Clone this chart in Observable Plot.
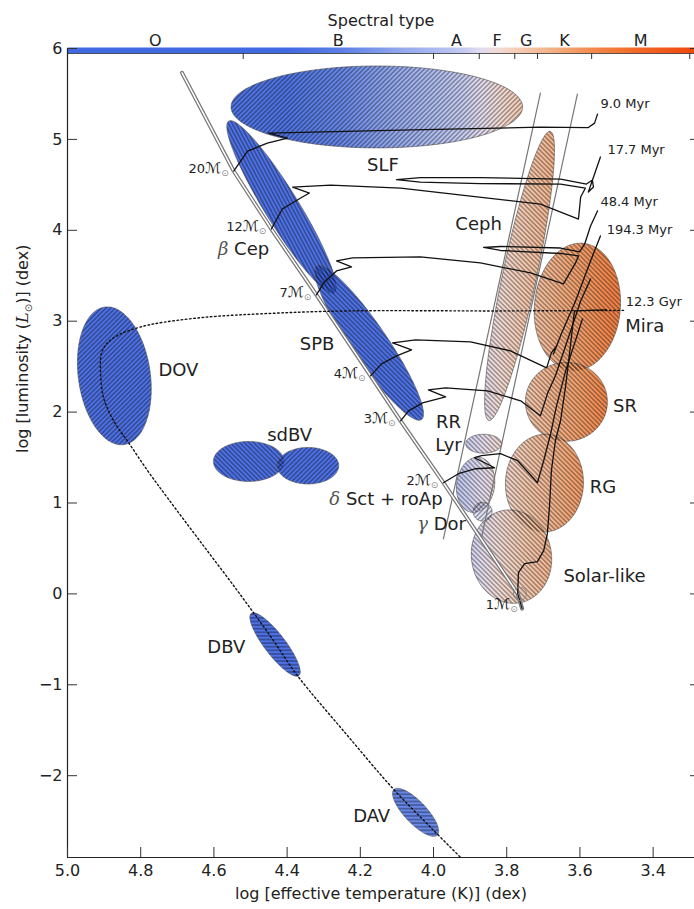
<!DOCTYPE html>
<html><head><meta charset="utf-8">
<script src="https://cdn.jsdelivr.net/npm/d3@7"></script>
<script src="https://cdn.jsdelivr.net/npm/@observablehq/plot@0.6"></script>
<style>
html,body{margin:0;padding:0;background:#fff;}
svg{display:block;}
</style>
</head><body>
<div id="chart"></div>
<script>
// ---------------- data ----------------
const xTicks = [5.0, 4.8, 4.6, 4.4, 4.2, 4.0, 3.8, 3.6, 3.4];
const yTicks = [-2, -1, 0, 1, 2, 3, 4, 5, 6];
const spectralLetters = ["O", "B", "A", "F", "G", "K", "M"];
const spectralEdges = [5.0, 4.52, 4.0, 3.875, 3.778, 3.716, 3.568, 3.30];

// zero-age main sequence [log Teff, log L]
const zams = [[4.687,5.732],[4.546,4.652],[4.443,4.014],[4.320,3.289],[4.172,2.399],[4.090,1.904],[3.973,1.223],[3.770,0.003],[3.758,-0.162]];
const massLabels = ["20", "12", "7", "4", "3", "2", "1"];
const massLogT = [4.546, 4.443, 4.320, 4.172, 4.090, 3.973, 3.770];
const massLogL = [4.652, 4.014, 3.289, 2.399, 1.904, 1.223, 0.003];

// evolutionary tracks [log Teff, log L]
const track20 = [[4.546,4.652],[4.508,4.871],[4.454,4.959],[4.399,5.014],[4.451,5.069],[4.090,5.102],[3.708,5.135],[3.577,5.130],[3.560,5.179],[3.552,5.278]];
const track12 = [[4.443,4.014],[4.413,4.234],[4.363,4.355],[4.339,4.410],[4.385,4.476],[4.281,4.498],[4.090,4.465],[3.899,4.377],[3.708,4.289],[3.604,4.124],[3.598,4.366],[3.585,4.465],[3.653,4.509],[3.872,4.514],[4.036,4.531],[4.101,4.558],[4.036,4.580],[3.872,4.580],[3.653,4.564],[3.582,4.509],[3.566,4.553],[3.563,4.476],[3.577,4.421],[3.544,4.806]];
const track7 = [[4.320,3.289],[4.298,3.432],[4.265,3.553],[4.224,3.597],[4.265,3.663],[4.221,3.696],[4.036,3.707],[3.872,3.641],[3.735,3.531],[3.645,3.410],[3.612,3.641],[3.604,3.718],[3.653,3.745],[3.817,3.778],[3.863,3.811],[3.817,3.822],[3.653,3.805],[3.601,3.762],[3.587,3.850],[3.571,4.048],[3.552,4.213]];
const track4 = [[4.172,2.399],[4.142,2.531],[4.101,2.619],[4.060,2.685],[4.112,2.762],[4.049,2.795],[3.899,2.773],[3.790,2.674],[3.691,2.487],[3.678,2.652],[3.664,2.729],[3.672,2.641],[3.653,2.839],[3.612,3.223],[3.571,3.663],[3.544,3.938]];
const track3 = [[4.090,1.904],[4.068,2.014],[4.030,2.102],[3.967,2.168],[4.014,2.245],[3.967,2.267],[3.852,2.234],[3.762,2.124],[3.708,1.959],[3.689,2.201],[3.667,2.399],[3.639,2.729],[3.598,3.223],[3.571,3.465]];
const track2 = [[3.973,1.223],[3.932,1.322],[3.885,1.377],[3.833,1.388],[3.888,1.498],[3.869,1.520],[3.817,1.542],[3.770,1.465],[3.716,1.223],[3.699,1.465],[3.680,1.762],[3.664,2.069],[3.639,2.454],[3.593,3.025]];
const track1 = [[3.758,-0.162],[3.770,0.003],[3.768,0.234],[3.751,0.333],[3.716,0.355],[3.699,0.476],[3.689,0.663],[3.683,0.970],[3.678,1.355],[3.667,1.685],[3.653,1.905],[3.639,2.289],[3.626,2.729],[3.615,3.113],[3.527,3.124]];
// post-AGB / white-dwarf cooling path (dotted)
const wdPath = [[3.481,3.119],[3.817,3.113],[4.235,3.113],[4.445,3.086],[4.628,3.042],[4.765,2.970],[4.809,2.926],[4.855,2.860],[4.891,2.761],[4.907,2.651],[4.910,2.487],[4.902,2.168],[4.874,1.904],[4.833,1.663],[4.781,1.355],[4.727,1.058],[4.637,0.575],[4.536,0.036],[4.445,-0.469],[4.372,-0.898],[4.240,-1.535],[4.109,-2.150],[4.008,-2.568],[3.918,-2.931]];
// classical instability strip edges
const blueEdge = [[3.708,5.509],[3.973,0.604]];
const redEdge = [[3.607,5.498],[3.869,0.619]];
const sunPoint = [[3.764, 0.0]];

// pulsator regions: centre (log Teff, log L), semi-axes (in dex of log L), tilt (deg)
const regionNames = ["SLF","β Cep","SPB","Ceph","Mira","SR","RG","Solar-like","δ Sct","RR Lyr","γ Dor","DOV","sdBV a","sdBV b","DBV","DAV"];
const regionLogT  = [4.155, 4.415, 4.176, 3.765, 3.607, 3.637, 3.697, 3.787, 3.885, 3.863, 3.866, 4.872, 4.505, 4.343, 4.433, 4.049];
const regionLogL  = [5.357, 4.256, 2.762, 3.498, 3.157, 2.113, 1.218, 0.410, 1.200, 1.652, 0.904, 2.399, 1.457, 1.410, -0.557, -2.403];
const regionMajor = [1.604, 1.110, 1.022, 1.626, 0.703, 0.451, 0.538, 0.516, 0.306, 0.198, 0.104, 0.764, 0.388, 0.338, 0.431, 0.346];
const regionMinor = [0.451, 0.187, 0.198, 0.187, 0.473, 0.434, 0.429, 0.440, 0.209, 0.104, 0.104, 0.396, 0.220, 0.201, 0.115, 0.121];
const regionTilt  = [0, -58.4, -55.7, 78, 85, 0, 88, 100, 82, 0, 0, 98, 0, 0, -52.6, -46.5];

// text annotations
const labelText = ["SLF","Ceph","β Cep","SPB","DOV","sdBV","RR\nLyr","δ Sct + roAp","γ Dor","Solar-like","RG","SR","Mira","DBV","DAV"];
const labelLogT = [4.138, 3.877, 4.519, 4.318, 4.697, 4.393, 3.959, 4.130, 3.978, 3.533, 3.537, 3.477, 3.423, 4.566, 4.169];
const labelLogL = [4.740, 4.084, 3.809, 2.765, 2.476, 1.762, 1.778, 1.055, 0.787, 0.212, 1.190, 2.080, 2.959, -0.569, -2.426];
const ageLabels = ["9.0 Myr", "17.7 Myr", "48.4 Myr", "194.3 Myr", "12.3 Gyr"];
const ageLogT = [3.544, 3.525, 3.544, 3.527, 3.475];
const ageLogL = [5.387, 4.882, 4.311, 4.003, 3.212];

const xTitle = "log [effective temperature (K)] (dex)";
const yTitle = "log [luminosity (L⊙)] (dex)";

// ---------------- layout & style ----------------
const W = 694, H = 909, mL = 67, mR = 0, mT = 48, mB = 52;
const xDomain = [5.0, 3.287], yDomain = [-2.9, 6.0];
const plotW = W - mL - mR, plotH = H - mT - mB;
const kx = plotW / (xDomain[0] - xDomain[1]);
const ky = plotH / (yDomain[1] - yDomain[0]);
const aspect = ky / kx;

const cmap = [[5.0,"#4169e1"],[4.40,"#4169e1"],[4.25,"#5c7fe6"],[4.10,"#8fa5ee"],[4.00,"#aab9f1"],[3.92,"#c4caf2"],[3.87,"#e2dcf0"],[3.82,"#f3dad2"],[3.76,"#f5c9b0"],[3.70,"#f4b792"],[3.62,"#f39e68"],[3.55,"#f28546"],[3.45,"#f26a28"],[3.30,"#f04a10"]];
const regionLook = {
  "SLF": ["grad","fwd"], "β Cep": ["blue","steep"], "SPB": ["blue","back"], "Ceph": ["grad","back"],
  "Mira": ["grad","back"], "SR": ["grad","back"], "RG": ["grad","back"], "Solar-like": ["grad","back"],
  "δ Sct": ["grad","back"], "RR Lyr": ["grad","back"], "γ Dor": ["light","fwd"], "DOV": ["blue","fwd"],
  "sdBV a": ["blue","back"], "sdBV b": ["blue","fwd"], "DBV": ["blue","horiz"], "DAV": ["blue2","horiz"]
};
const fillFor = {grad: "url(#cmapgrad)", blue: "#3f66e3", blue2: "#5a7de6", light: "#d0d2f4"};
const hatchAngles = {fwd: -45, back: 45, steep: 62, horiz: 0};

function ellipsePts(i) {
  const cx = regionLogT[i], cy = regionLogL[i], a = regionMajor[i], b = regionMinor[i];
  const phi = regionTilt[i] * Math.PI / 180, n = 120, pts = [];
  for (let k = 0; k < n; k++) {
    const t = 2 * Math.PI * k / n;
    const du = a * Math.cos(t) * Math.cos(phi) - b * Math.sin(t) * Math.sin(phi);
    const dv = a * Math.cos(t) * Math.sin(phi) + b * Math.sin(t) * Math.cos(phi);
    pts.push({x: cx - du * aspect, y: cy + dv});
  }
  return pts;
}
const shapes = regionNames.map((n, i) => ellipsePts(i));
const px = d => d[0], py = d => d[1];

const fillMarks = regionNames.map((n, i) => Plot.line(shapes[i], {
  x: "x", y: "y", curve: "linear-closed",
  fill: fillFor[regionLook[n][0]], fillOpacity: regionLook[n][0] === "light" ? 0.55 : 0.92,
  stroke: "#666", strokeOpacity: 0.85, strokeWidth: 0.8
}));
const hatchMarks = regionNames.map((n, i) => Plot.line(shapes[i], {
  x: "x", y: "y", curve: "linear-closed", fill: `url(#hatch-${regionLook[n][1]})`, stroke: "none"
}));
const tracks = [track20, track12, track7, track4, track3, track2, track1];

const svg = Plot.plot({
  width: W, height: H,
  marginLeft: mL, marginRight: mR, marginTop: mT, marginBottom: mB,
  x: {domain: xDomain},
  y: {domain: yDomain},
  style: {fontFamily: "DejaVu Sans, sans-serif", fontSize: "16px", color: "#222", background: "#fff", overflow: "visible"},
  marks: [
    ...fillMarks,
    ...hatchMarks,
    Plot.line(blueEdge, {x: px, y: py, stroke: "#777", strokeWidth: 1.2}),
    Plot.line(redEdge, {x: px, y: py, stroke: "#777", strokeWidth: 1.2}),
    Plot.line(zams, {x: px, y: py, stroke: "#777", strokeWidth: 4}),
    Plot.line(zams, {x: px, y: py, stroke: "#fff", strokeWidth: 1.5}),
    ...tracks.map(t => Plot.line(t, {x: px, y: py, stroke: "#111", strokeWidth: 1.3, strokeLinejoin: "round"})),
    Plot.line(wdPath, {x: px, y: py, stroke: "#111", strokeWidth: 1.4, strokeDasharray: "1.6,2.6", curve: "catmull-rom", clip: true}),
    Plot.dot(sunPoint, {x: px, y: py, r: 6.5, stroke: "#888", fill: "none", strokeWidth: 1}),
    // spectral colour bar
    Plot.frame({fill: "url(#cmapgrad)", stroke: "none", insetTop: -1, insetBottom: plotH - 5}),
    Plot.ruleY([yDomain[1]], {dy: 5, stroke: "#333", strokeWidth: 0.8}),
    Plot.tickX(spectralEdges, {x: d => d, stroke: "#333", insetTop: 5, insetBottom: plotH - 11}),
    Plot.text(spectralLetters, {x: (d, i) => (spectralEdges[i] + spectralEdges[i + 1]) / 2, frameAnchor: "top", dy: -14, fontSize: 16}),
    Plot.text(["Spectral type"], {frameAnchor: "top", dy: -34, fontSize: 16}),
    // axes
    Plot.ruleX([xDomain[0]], {stroke: "#222", strokeWidth: 1.2}),
    Plot.ruleY([yDomain[0]], {stroke: "#222", strokeWidth: 1.2}),
    Plot.axisX({ticks: xTicks, tickSize: 0, tickPadding: 7, tickFormat: d3.format(".1f"), fontSize: 16, label: null}),
    Plot.axisX({ticks: xTicks, tickSize: -10, fill: "none", label: null, stroke: "#333"}),
    Plot.axisY({ticks: yTicks, tickSize: 0, tickPadding: 5, fontSize: 16, label: null}),
    Plot.axisY({ticks: yTicks, tickSize: -10, fill: "none", label: null, stroke: "#333"}),
    Plot.axisY({anchor: "right", ticks: yTicks, tickSize: -5, fill: "none", label: null, stroke: "#333"}),
    Plot.text([xTitle], {frameAnchor: "bottom", dy: 41, fontSize: 16}),
    Plot.text([yTitle], {frameAnchor: "left", dx: -45, rotate: -90, fontSize: 16}),
    // annotations
    Plot.text(labelText, {x: (d, i) => labelLogT[i], y: (d, i) => labelLogL[i], fontSize: 18, lineHeight: 1.3}),
    Plot.text(ageLabels, {x: (d, i) => ageLogT[i], y: (d, i) => ageLogL[i], textAnchor: "start", fontSize: 13}),
    Plot.text(massLabels.slice(0, 6), {x: (d, i) => massLogT[i], y: (d, i) => massLogL[i], text: d => d + "ℳ⊙", textAnchor: "end", dx: -5, dy: -2, fontSize: 13}),
    Plot.text(massLabels.slice(6), {x: (d, i) => massLogT[6 + i], y: (d, i) => massLogL[6 + i], text: d => d + "ℳ⊙", textAnchor: "end", dx: 0, dy: 11, fontSize: 13})
  ]
});

// ---------------- defs: colour map gradient & hatches ----------------
const xs = svg.scale("x");
const defs = d3.select(svg).insert("defs", ":first-child");
const g0 = xs.apply(cmap[0][0]), g1 = xs.apply(cmap[cmap.length - 1][0]);
const grad = defs.append("linearGradient").attr("id", "cmapgrad").attr("gradientUnits", "userSpaceOnUse")
  .attr("x1", g0).attr("x2", g1).attr("y1", 0).attr("y2", 0);
cmap.forEach(([v, c]) => grad.append("stop").attr("offset", (xs.apply(v) - g0) / (g1 - g0)).attr("stop-color", c));
Object.entries(hatchAngles).forEach(([k, ang]) => {
  const s = k === "horiz" ? 3.6 : 3.3;
  const p = defs.append("pattern").attr("id", "hatch-" + k).attr("patternUnits", "userSpaceOnUse")
    .attr("width", 10).attr("height", s).attr("patternTransform", `rotate(${ang})`);
  p.append("line").attr("x1", -1).attr("x2", 11).attr("y1", s / 2).attr("y2", s / 2)
    .attr("stroke", "#000").attr("stroke-opacity", 0.8).attr("stroke-width", 0.75);
});

// ---------------- rich text (italic greek, subscript sun symbol) ----------------
function span(t, s, attrs = {}) {
  const e = document.createElementNS("http://www.w3.org/2000/svg", "tspan");
  e.textContent = s;
  for (const [k, v] of Object.entries(attrs)) e.setAttribute(k, v);
  t.appendChild(e);
}
svg.querySelectorAll("text").forEach(t => {
  if (t.children.length) return;
  const s = t.textContent;
  if (s === yTitle) {
    t.textContent = "";
    span(t, "log [luminosity (");
    span(t, "L", {"font-family": "DejaVu Serif", "font-style": "italic"});
    span(t, "⊙", {"font-size": "10px", dy: "4", fill: "#444"});
    span(t, ")] (dex)", {dy: "-4"});
  } else if (s.endsWith("ℳ⊙")) {
    t.textContent = "";
    span(t, s.slice(0, -2));
    span(t, "ℳ", {"font-family": "DejaVu Sans", "font-size": "15px"});
    span(t, "⊙", {"font-size": "9px", dy: "3", fill: "#888"});
  } else if (/^[βδγ]/.test(s)) {
    t.textContent = "";
    span(t, s[0], {"font-family": "DejaVu Serif", "font-style": "italic", fill: "#555"});
    span(t, s.slice(1));
  }
});

document.getElementById("chart").appendChild(svg);
</script>
</body></html>
